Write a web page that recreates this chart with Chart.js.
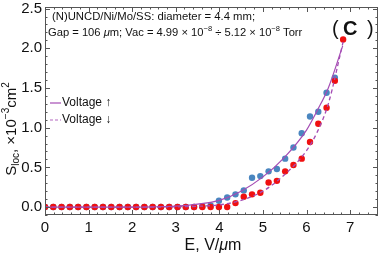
<!DOCTYPE html>
<html>
<head>
<meta charset="utf-8">
<script src="https://cdn.jsdelivr.net/npm/chart.js@4.4.1/dist/chart.umd.min.js"></script>
<style>
  html, body { margin: 0; padding: 0; background: #fff; }
  #wrap { width: 382px; height: 255px; position: relative; }
</style>
</head>
<body>
<div id="wrap"><canvas id="chart"></canvas></div>
<script>
// field values E (V/um), step
const fieldE = [0.00, 0.19, 0.38, 0.57, 0.76, 0.95, 1.14, 1.33, 1.52, 1.71, 1.90, 2.09, 2.28,
  2.47, 2.66, 2.85, 3.04, 3.23, 3.42, 3.61, 3.80, 3.99, 4.18, 4.37, 4.56, 4.75, 4.94, 5.13,
  5.32, 5.51, 5.70, 5.89, 6.08, 6.27, 6.46, 6.65, 6.84];

// Voltage up (blue points), x10^-3 cm^2
const sUp = [0, 0, 0, 0, 0, 0, 0, 0, 0, 0, 0, 0, 0, 0, 0, 0, 0, 0, 0, 0.01, 0.02,
  0.08, 0.12, 0.16, 0.21, 0.37, 0.39, 0.45, 0.48, 0.61, 0.75, 0.93, 1.14, 1.20, 1.44, 1.63];

// Voltage down (red points)
const sDown = [0, 0, 0, 0, 0, 0, 0, 0, 0, 0, 0, 0, 0, 0, 0, 0, 0, 0, 0, 0, 0, 0, 0,
  0.05, 0.13, 0.16, 0.18, 0.31, 0.33, 0.45, 0.53, 0.61, 0.82, 1.05, 1.25, 1.59, 2.11];

// fitted curves
const fitUpE = [0, 1, 2, 2.5, 3, 3.5, 4, 4.5, 5, 5.5, 6, 6.25, 6.5, 6.83];
const fitUpS = [0, 0, 0, 0.003, 0.012, 0.038, 0.085, 0.2, 0.38, 0.63, 0.97, 1.22, 1.5, 2.03];
const fitDownE = [0, 1, 2, 3, 3.5, 4, 4.5, 5, 5.5, 6, 6.25, 6.5, 6.84];
const fitDownS = [0, 0, 0, 0.003, 0.01, 0.027, 0.085, 0.2, 0.41, 0.71, 0.95, 1.3, 2.08];

const xTicks = [0, 1, 2, 3, 4, 5, 6, 7];
const yTicks = [0, 0.5, 1.0, 1.5, 2.0, 2.5];

const FONT = '"Liberation Sans", Arial, sans-serif';
const PURPLE = '#a54cb4';
const PURPLE_LIGHT = '#b366c0';

const pts = (xs, ys) => ys.map((y, i) => ({ x: xs[i], y: y }));

// draw text made of runs with different sizes (sub/superscripts)
function runsWidth(ctx, runs) {
  let w = 0;
  runs.forEach(r => { ctx.font = (r.w || '') + ' ' + r.s + 'px ' + FONT; w += ctx.measureText(r.t).width; });
  return w;
}
function drawRuns(ctx, x, y, runs) {
  runs.forEach(r => {
    ctx.font = (r.w || '') + ' ' + r.s + 'px ' + FONT;
    ctx.fillText(r.t, x, y + (r.dy || 0));
    x += ctx.measureText(r.t).width;
  });
}

const decor = {
  id: 'decor',
  afterDatasetsDraw(chart) {
    const ctx = chart.ctx;
    const a = chart.chartArea;
    const xs = chart.scales.x, ys = chart.scales.y;
    ctx.save();
    // frame
    ctx.strokeStyle = '#555';
    ctx.lineWidth = 1;
    ctx.strokeRect(a.left + 0.5, a.top + 0.5, a.right - a.left - 1, a.bottom - a.top - 1);
    // inner ticks on all sides
    ctx.beginPath();
    for (let v = 0; v <= 7.6; v += 0.2) {
      const major = Math.abs(v - Math.round(v)) < 1e-6;
      const len = major ? 5 : 2.5;
      const px = Math.round(xs.getPixelForValue(v)) + 0.5;
      ctx.moveTo(px, a.bottom); ctx.lineTo(px, a.bottom - len);
      ctx.moveTo(px, a.top); ctx.lineTo(px, a.top + len);
    }
    for (let v = -0.1; v <= 2.52; v += 0.1) {
      const major = Math.abs(v * 2 - Math.round(v * 2)) < 1e-6;
      const len = major ? 5 : 2.5;
      const py = Math.round(ys.getPixelForValue(v)) + 0.5;
      ctx.moveTo(a.left, py); ctx.lineTo(a.left + len, py);
      ctx.moveTo(a.right, py); ctx.lineTo(a.right - len, py);
    }
    ctx.stroke();

    ctx.fillStyle = '#111';
    ctx.textBaseline = 'middle';
    ctx.textAlign = 'left';
    // annotation
    drawRuns(ctx, 52, 17, [{ t: '(N)UNCD/Ni/Mo/SS: diameter = 4.4 mm;', s: 11.3 }]);
    drawRuns(ctx, 48, 33, [
      { t: 'Gap = 106 ', s: 11.2 }, { t: 'μ', s: 11.2, w: 'italic' }, { t: 'm; Vac = 4.99 × 10', s: 11.2 },
      { t: '−8', s: 7.5, dy: -4 }, { t: ' ÷ 5.12 × 10', s: 11.2 }, { t: '−8', s: 7.5, dy: -4 },
      { t: ' Torr', s: 11.2 }
    ]);
    // panel letter
    ctx.font = '20px ' + FONT;
    ctx.fillText('(', 332, 29);
    ctx.fillText(')', 367, 29);
    ctx.font = 'bold 20px ' + FONT;
    ctx.fillText('C', 343, 29);

    // legend
    ctx.strokeStyle = PURPLE;
    ctx.lineWidth = 1.2;
    ctx.beginPath(); ctx.moveTo(50, 103); ctx.lineTo(61, 103); ctx.stroke();
    ctx.strokeStyle = PURPLE_LIGHT;
    ctx.setLineDash([3, 2]);
    ctx.beginPath(); ctx.moveTo(50, 120); ctx.lineTo(61, 120); ctx.stroke();
    ctx.setLineDash([]);
    ctx.fillStyle = '#111';
    drawRuns(ctx, 62, 103, [{ t: 'Voltage ↑', s: 12 }]);
    drawRuns(ctx, 62, 120, [{ t: 'Voltage ↓', s: 12 }]);

    // x title
    const xr = [{ t: 'E, V/', s: 16 }, { t: 'μ', s: 16, w: 'italic' }, { t: 'm', s: 16 }];
    drawRuns(ctx, 213 - runsWidth(ctx, xr) / 2, 246, xr);

    // y title, rotated
    const yr = [
      { t: 'S', s: 15 }, { t: 'loc', s: 10, dy: 4 }, { t: ', ×10', s: 15 },
      { t: '−3', s: 10, dy: -6 }, { t: 'cm', s: 15 }, { t: '2', s: 10, dy: -6 }
    ];
    ctx.translate(12, 129);
    ctx.rotate(-Math.PI / 2);
    drawRuns(ctx, -runsWidth(ctx, yr) / 2, 0, yr);
    ctx.restore();
  }
};

const noPad = s => { s.paddingTop = 0; s.paddingBottom = 0; s.paddingLeft = 0; s.paddingRight = 0; };

new Chart(document.getElementById('chart'), {
  type: 'scatter',
  data: {
    datasets: [
      {
        label: 'Voltage ↑ fit', type: 'line', data: pts(fitUpE, fitUpS),
        borderColor: PURPLE, borderWidth: 1.2, pointRadius: 0, fill: false,
        cubicInterpolationMode: 'monotone', order: 0
      },
      {
        label: 'Voltage ↓ fit', type: 'line', data: pts(fitDownE, fitDownS),
        borderColor: PURPLE, borderWidth: 1.3, borderDash: [4, 3], pointRadius: 0, fill: false,
        cubicInterpolationMode: 'monotone', order: 0
      },
      {
        label: 'down', data: pts(fieldE, sDown),
        backgroundColor: '#f01010', borderWidth: 0, pointRadius: 3.2, order: 1
      },
      {
        label: 'up', data: pts(fieldE, sUp),
        backgroundColor: '#4a86c0', borderWidth: 0, pointRadius: 3.2, order: 2
      }
    ]
  },
  options: {
    responsive: true,
    maintainAspectRatio: false,
    animation: false,
    layout: { padding: { top: 7, right: 1, left: 0, bottom: 0 } },
    plugins: { legend: { display: false }, tooltip: { enabled: false } },
    scales: {
      x: {
        type: 'linear', min: 0, max: 7.64,
        afterBuildTicks: s => { s.ticks = xTicks.map(v => ({ value: v })); },
        afterFit: s => { s.height = 40; noPad(s); },
        grid: { display: false, drawTicks: false },
        border: { display: false },
        ticks: { color: '#111', font: { family: FONT, size: 15 }, padding: 4, maxRotation: 0 }
      },
      y: {
        type: 'linear', min: -0.1, max: 2.52,
        afterBuildTicks: s => { s.ticks = yTicks.map(v => ({ value: v })); },
        afterFit: s => { s.width = 45; noPad(s); },
        grid: { display: false, drawTicks: false },
        border: { display: false },
        ticks: { color: '#111', font: { family: FONT, size: 15 }, padding: 3,
          callback: v => v.toFixed(1) }
      }
    }
  },
  plugins: [decor]
});
</script>
</body>
</html>
